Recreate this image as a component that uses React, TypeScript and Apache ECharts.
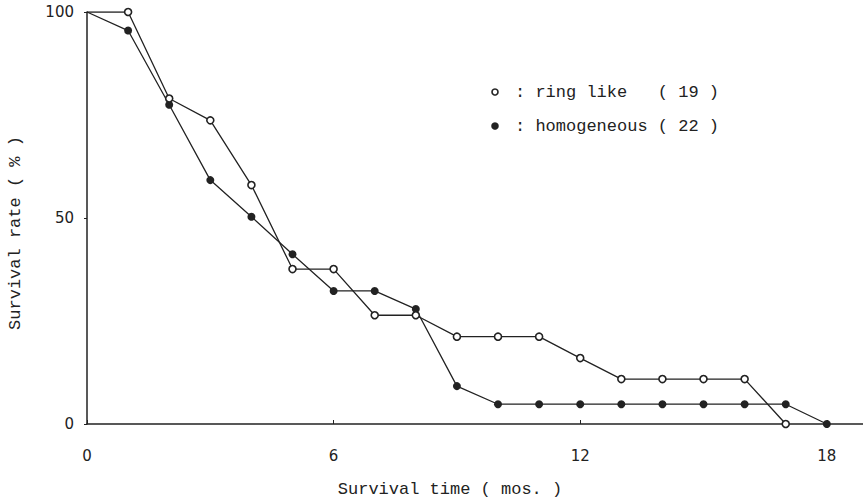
import React, { useEffect, useRef } from "react";
import * as echarts from "echarts";

const ringMonths = [0, 1, 2, 3, 4, 5, 6, 7, 8, 9, 10, 11, 12, 13, 14, 15, 16, 17];
const ringLike = [100, 100, 79, 73.7, 58, 37.6, 37.6, 26.4, 26.4, 21.2, 21.2, 21.2, 16, 10.9, 10.9, 10.9, 10.9, 0];
const homoMonths = [0, 1, 2, 3, 4, 5, 6, 7, 8, 9, 10, 11, 12, 13, 14, 15, 16, 17, 18];
const homogeneous = [100, 95.5, 77.5, 59.2, 50.3, 41.2, 32.3, 32.3, 27.9, 9.2, 4.8, 4.8, 4.8, 4.8, 4.8, 4.8, 4.8, 4.8, 0];
const xTicks = [0, 6, 12, 18];
const yTicks = [0, 50, 100];

const MONO = "'Liberation Mono', 'DejaVu Sans Mono', monospace";
const SANS = "'DejaVu Sans', 'Liberation Sans', sans-serif";
const INK = "#222";

function build(months: number[], vals: number[]) {
  return months.map((m, i) =>
    i === 0 ? { value: [m, vals[i]], symbol: "none" } : { value: [m, vals[i]] }
  );
}

export default function App() {
  const ref = useRef<HTMLDivElement>(null);
  useEffect(() => {
    if (!ref.current) return;
    const chart = echarts.init(ref.current, undefined, { renderer: "svg" });
    chart.setOption({
      animation: false,
      backgroundColor: "#fff",
      grid: { left: 87, right: 0, top: 12, bottom: 78 },
      xAxis: {
        type: "value",
        min: 0,
        max: 18.88,
        interval: 6,
        axisLine: { show: true, lineStyle: { color: INK, width: 1.5 } },
        axisTick: { show: true, inside: true, length: 4, lineStyle: { color: INK } },
        splitLine: { show: false },
        axisLabel: {
          color: INK,
          fontFamily: SANS,
          fontSize: 15,
          margin: 24,
          showMaxLabel: false,
          formatter: (v: number) => (xTicks.includes(v) ? String(v) : ""),
        },
      },
      yAxis: {
        type: "value",
        min: 0,
        max: 100,
        interval: 50,
        axisLine: { show: true, lineStyle: { color: INK, width: 1.5 } },
        axisTick: { show: true, length: 3, lineStyle: { color: INK } },
        splitLine: { show: false },
        axisLabel: {
          color: INK,
          fontFamily: SANS,
          fontSize: 15,
          margin: 13,
          formatter: (v: number) => (yTicks.includes(v) ? String(v) : ""),
        },
      },
      series: [
        {
          name: "ring like",
          type: "line",
          data: build(ringMonths, ringLike),
          symbol: "circle",
          symbolSize: 7,
          lineStyle: { color: INK, width: 1.3 },
          itemStyle: { color: "#fff", borderColor: INK, borderWidth: 1.6 },
          z: 3,
        },
        {
          name: "homogeneous",
          type: "line",
          data: build(homoMonths, homogeneous),
          symbol: "circle",
          symbolSize: 8,
          lineStyle: { color: INK, width: 1.3 },
          itemStyle: { color: INK, borderColor: INK, borderWidth: 0 },
          z: 2,
        },
      ],
      graphic: [
        {
          type: "circle",
          shape: { cx: 495, cy: 92, r: 3 },
          style: { fill: "#fff", stroke: INK, lineWidth: 1.6 },
        },
        {
          type: "text",
          x: 515,
          y: 92,
          style: {
            text: ": ring like\u00a0\u00a0\u00a0( 19 )",
            font: `17px ${MONO}`,
            fill: INK,
            textVerticalAlign: "middle",
          },
        },
        {
          type: "circle",
          shape: { cx: 495, cy: 126, r: 3.8 },
          style: { fill: INK },
        },
        {
          type: "text",
          x: 515,
          y: 126,
          style: {
            text: ": homogeneous ( 22 )",
            font: `17px ${MONO}`,
            fill: INK,
            textVerticalAlign: "middle",
          },
        },
        {
          type: "text",
          x: 450,
          y: 489,
          style: {
            text: "Survival time ( mos. )",
            font: `17px ${MONO}`,
            fill: INK,
            textAlign: "center",
            textVerticalAlign: "middle",
          },
        },
        {
          type: "text",
          x: 15,
          y: 233,
          rotation: Math.PI / 2,
          style: {
            text: "Survival rate ( % )",
            font: `17px ${MONO}`,
            fill: INK,
            textAlign: "center",
            textVerticalAlign: "middle",
          },
        },
      ],
    });
    return () => chart.dispose();
  }, []);
  return (
    <div
      ref={ref}
      style={{ position: "fixed", left: 0, top: 0, width: 863, height: 502, background: "#fff" }}
    />
  );
}
